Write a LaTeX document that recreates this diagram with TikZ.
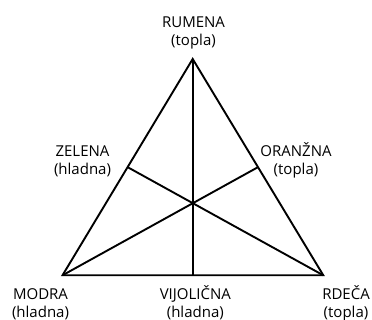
\documentclass[tikz,border=0pt]{standalone}
\usepackage{fontspec}
\setmainfont{Open Sans}
\usetikzlibrary{calc}
\begin{document}
\begin{tikzpicture}[x=1pt,y=-1pt,
  edge/.style={line width=1.9pt, line join=miter, line cap=butt},
  lbl/.style={font=\fontsize{15}{17.5}\selectfont, align=center, inner sep=0pt, anchor=base}]
\useasboundingbox (0,0) rectangle (372,320);
\coordinate (T) at (192.7,59);
\coordinate (L) at (62.5,275.3);
\coordinate (R) at (323.3,275.3);
\coordinate (ML) at ($(T)!0.5!(L)$);
\coordinate (MR) at ($(T)!0.5!(R)$);
\coordinate (MB) at (192.7,275.3);
\draw[edge] (T) -- (L) -- (R) -- cycle;
\draw[edge, line width=2.2pt] (T) -- (MB);
\draw[edge] (ML) -- (R);
\draw[edge] (MR) -- (L);
\node[lbl] (rumena) at (193.5,45.5) {RUMENA\\(topla)};
\node[lbl] (zelena) at (82.5,174.5) {ZELENA\\(hladna)};
\node[lbl] (oranzna) at (296,174.5) {ORANŽNA\\(topla)};
\node[lbl] (modra) at (40.5,317) {MODRA\\(hladna)};
\node[lbl] (vijolicna) at (195.3,317) {VIJOLIČNA\\(hladna)};
\node[lbl] (rdeca) at (346,317) {RDEČA\\(topla)};
\end{tikzpicture}
\end{document}
